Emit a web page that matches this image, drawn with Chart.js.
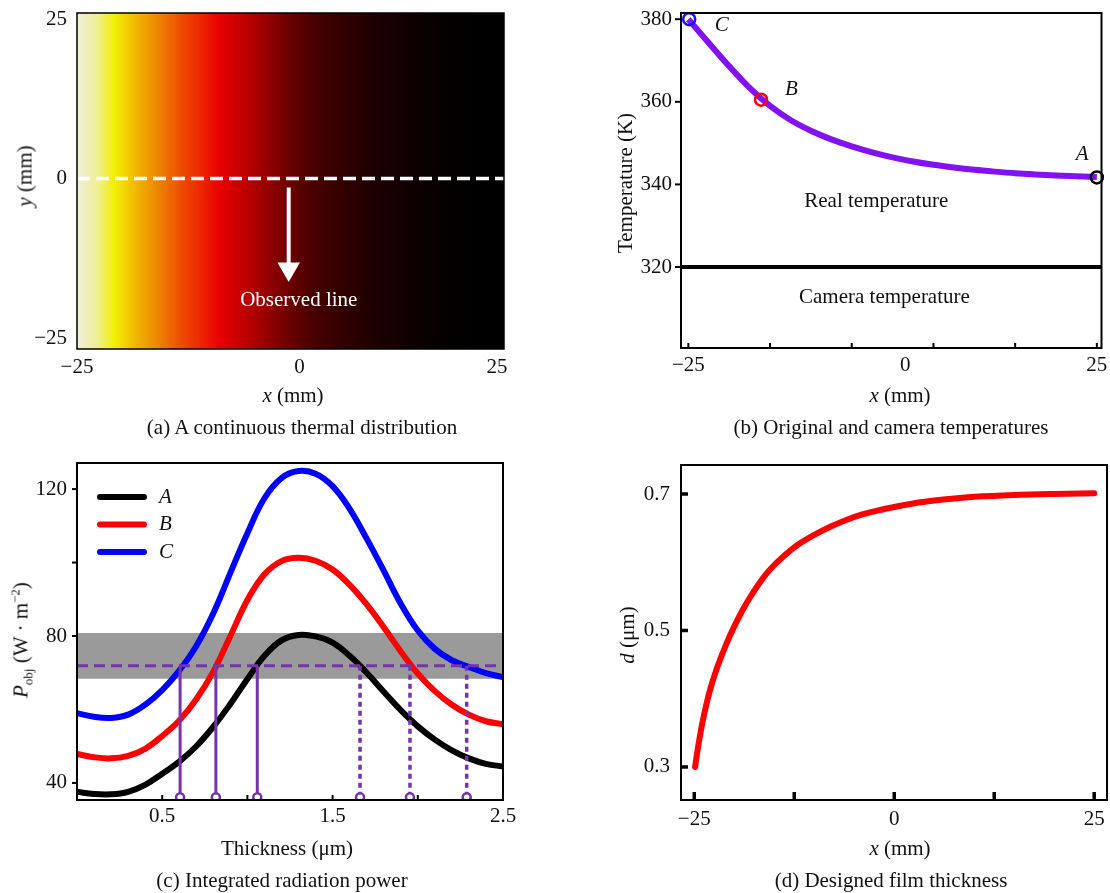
<!DOCTYPE html>
<html>
<head>
<meta charset="utf-8">
<title>Thermal distribution and designed film thickness</title>
<script src="https://cdn.jsdelivr.net/npm/chart.js@4.4.0/dist/chart.umd.min.js"></script>
<style>
  body { margin: 0; background: #fff; }
  #page { position: relative; width: 1110px; height: 893px; overflow: hidden;
          font-family: "Liberation Serif", "Times New Roman", serif; color: #111; }
  #page canvas { position: absolute; }
  .lbl { position: absolute; white-space: nowrap; font-size: 21px; line-height: 1;
         transform: translate(-50%, -50%); }
  .rot { transform: translate(-50%, -50%) rotate(-90deg); }
  sub, sup { font-size: 13px; line-height: 0; }
</style>
</head>
<body>
<div id="page">
  <canvas id="chartA" width="540" height="440" style="left:0;top:0"></canvas>
  <canvas id="chartB" width="550" height="440" style="left:560px;top:0"></canvas>
  <canvas id="chartC" width="540" height="453" style="left:0;top:440px"></canvas>
  <canvas id="chartD" width="550" height="453" style="left:560px;top:440px"></canvas>

  <div class="lbl rot" style="left:25px;top:176px"><i>y</i> (mm)</div>
  <div class="lbl" style="left:293px;top:395px"><i>x</i> (mm)</div>
  <div class="lbl" style="left:302px;top:427px">(a) A continuous thermal distribution</div>

  <div class="lbl rot" style="left:625px;top:183px">Temperature (K)</div>
  <div class="lbl" style="left:900px;top:395px"><i>x</i> (mm)</div>
  <div class="lbl" style="left:891px;top:427px">(b) Original and camera temperatures</div>

  <div class="lbl rot" style="left:21px;top:640px"><i>P</i><sub>obj</sub> (W · m<sup>−2</sup>)</div>
  <div class="lbl" style="left:287px;top:848px">Thickness (μm)</div>
  <div class="lbl" style="left:282px;top:880px">(c) Integrated radiation power</div>

  <div class="lbl rot" style="left:627px;top:635px"><i>d</i> (μm)</div>
  <div class="lbl" style="left:900px;top:848px"><i>x</i> (mm)</div>
  <div class="lbl" style="left:891px;top:880px">(d) Designed film thickness</div>
</div>

<script>
// (a) colour of the thermal map along x (mm)
const HEAT_X = [-25, -22.5, -20.5, -18, -15.5, -12.5, -10, -8, -4, 0, 3, 7, 11, 15, 19, 23, 25.83];
const HEAT_COLOR = ['#efeedc', '#f0ee92', '#f2ef00', '#f0b800', '#ee8800', '#ec4a00', '#ee2200', '#e80000',
                    '#b00000', '#700000', '#4a0000', '#300000', '#1c0000', '#0e0000', '#050000', '#000000', '#000000'];
const OBSERVED_Y = 0;

// (b) temperature along the observed line
const POS_X = [-25, -22.5, -20, -17.5, -15, -12.5, -10, -7.5, -5, -2.5, 0, 2.5, 5, 7.5, 10, 12.5, 15, 17.5, 20, 22.5, 25];
const REAL_T = [380.0, 374.25, 368.6, 363.35, 359.0, 355.6, 353.0, 350.9, 349.2, 347.75, 346.55, 345.55, 344.75,
                344.1, 343.55, 343.1, 342.7, 342.4, 342.15, 341.95, 341.8];
const CAMERA_T = 320;
const POINT_NAMES = ['A', 'B', 'C'];
const POINT_X = [25, -16.1, -24.9];
const POINT_T = [341.7, 360.5, 380.0];
const POINT_COLORS = ['#000000', '#ff0000', '#1010ff'];

// (c) integrated radiation power vs thickness
const THICK = [0, 0.1, 0.2, 0.3, 0.4, 0.5, 0.6, 0.7, 0.8, 0.9, 1.0, 1.1, 1.2, 1.3, 1.4, 1.5, 1.6, 1.7, 1.8, 1.9, 2.0, 2.1, 2.2, 2.3, 2.4, 2.5];
const P_A = [37.6, 37.0, 36.9, 37.6, 39.5, 42.5, 45.8, 50.0, 55.3, 61.5, 68.3, 74.6, 78.8, 80.3, 79.9, 78.2,
             74.6, 70.0, 64.8, 59.8, 55.4, 51.8, 48.9, 46.7, 45.2, 44.5];
const P_B = [47.9, 47.0, 46.7, 47.4, 49.3, 52.8, 57.0, 62.8, 70.3, 80.0, 89.8, 96.8, 100.4, 101.3, 100.5, 98.1,
             93.9, 88.6, 82.4, 75.8, 69.8, 65.0, 61.3, 58.6, 56.8, 56.0];
const P_C = [59.0, 58.0, 57.7, 58.6, 61.3, 65.3, 70.6, 77.3, 86.2, 97.2, 108.0, 117.5, 123.0, 124.9, 124.2, 120.8,
             114.6, 106.5, 97.8, 88.8, 81.5, 76.5, 73.4, 71.6, 69.9, 68.8];
const BAND = [68.4, 80.8];
const LEVEL = 71.9;
const CROSS_SOLID = [0.605, 0.815, 1.058];
const CROSS_DOTTED = [1.661, 1.954, 2.287];

// (d) designed film thickness along x
const FILM_X = [-24.9, -24.5, -24, -23.5, -23, -22, -21, -20, -19, -18, -17, -16, -15, -14, -13, -12, -10, -8, -6, -4,
                -2, 0, 2.5, 5, 7.5, 10, 15, 20, 25];
const FILM_D = [0.300, 0.331, 0.364, 0.391, 0.414, 0.450, 0.480, 0.506, 0.529, 0.549, 0.567, 0.583, 0.596, 0.607,
                0.617, 0.626, 0.640, 0.652, 0.662, 0.670, 0.676, 0.681, 0.6865, 0.6905, 0.6935, 0.6958, 0.6985, 0.700, 0.701];

const PURPLE = '#8212f4';
const GUIDE = '#7535a8';
const SERIF = '"Liberation Serif", "Times New Roman", serif';

Chart.defaults.font.family = SERIF;
Chart.defaults.font.size = 21;
Chart.defaults.color = '#111';
Chart.defaults.animation = false;
Chart.defaults.responsive = false;
Chart.defaults.plugins.legend.display = false;
Chart.defaults.plugins.tooltip.enabled = false;
Chart.defaults.elements.point.radius = 0;

const pts = (xs, ys) => xs.map((x, i) => ({ x, y: ys[i] }));
const minus = v => String(v).replace('-', '\u2212');
// the "0" under panels (a) and (b) sits a little right of its tick in the original
const nudgedZero = v => (v === 0 ? '\u2002\u2002\u20090' : minus(v));

function axis(min, max, labels, size, pad, fmt) {
  return {
    type: 'linear', min, max,
    grid: { display: false, drawTicks: false },
    border: { display: false },
    ticks: { padding: pad, autoSkip: false, maxRotation: 0, callback: fmt || minus },
    afterBuildTicks: s => { s.ticks = labels.map(v => ({ value: v })); },
    afterFit: s => {
      if (s.isHorizontal()) s.height = size; else s.width = size;
      s.paddingLeft = s.paddingRight = s.paddingTop = s.paddingBottom = 0;
    }
  };
}

// box round the plot plus short tick marks (negative length = inward)
const frame = {
  id: 'frame',
  afterDatasetsDraw(chart, args, o) {
    const { ctx, chartArea: a } = chart;
    const xs = chart.scales.x, ys = chart.scales.y;
    ctx.save();
    ctx.strokeStyle = '#000';
    (o.xTicks || []).forEach(v => {
      const p = xs.getPixelForValue(v);
      ctx.lineWidth = o.xTickWidth;
      ctx.beginPath(); ctx.moveTo(p, a.bottom); ctx.lineTo(p, a.bottom + o.xTickLen); ctx.stroke();
    });
    (o.yTicks || []).forEach(v => {
      const p = ys.getPixelForValue(v);
      ctx.lineWidth = o.yTickWidth;
      ctx.beginPath(); ctx.moveTo(a.left, p); ctx.lineTo(a.left - o.yTickLen, p); ctx.stroke();
    });
    ctx.lineWidth = o.width;
    ctx.strokeRect(a.left, a.top, a.right - a.left, a.bottom - a.top);
    ctx.restore();
  }
};

// text placed at data coordinates
const notes = {
  id: 'notes',
  afterDatasetsDraw(chart, args, o) {
    const { ctx } = chart;
    const xs = chart.scales.x, ys = chart.scales.y;
    (o.items || []).forEach(n => {
      ctx.save();
      ctx.font = (n.italic ? 'italic ' : '') + (n.size || 21) + 'px ' + SERIF;
      ctx.fillStyle = n.color || '#111';
      ctx.textAlign = 'center';
      ctx.textBaseline = 'middle';
      ctx.fillText(n.text, xs.getPixelForValue(n.x), ys.getPixelForValue(n.y));
      ctx.restore();
    });
  }
};

// line legend for panel (c)
const lineKey = {
  id: 'lineKey',
  afterDatasetsDraw(chart, args, o) {
    if (!o.items) return;
    const { ctx, chartArea: a } = chart;
    o.items.forEach((idx, i) => {
      const ds = chart.data.datasets[idx];
      const yy = a.top + o.top + i * o.step;
      ctx.save();
      ctx.strokeStyle = ds.borderColor;
      ctx.lineWidth = 6;
      ctx.lineCap = 'round';
      ctx.beginPath(); ctx.moveTo(a.left + o.x0, yy); ctx.lineTo(a.left + o.x1, yy); ctx.stroke();
      ctx.font = 'italic 21px ' + SERIF;
      ctx.fillStyle = '#111';
      ctx.textBaseline = 'middle';
      ctx.fillText(ds.label, a.left + o.tx, yy);
      ctx.restore();
    });
  }
};

function heatFill(c) {
  const chart = c.chart;
  if (!chart.chartArea) return '#000';
  const xs = chart.scales.x;
  const p0 = xs.getPixelForValue(HEAT_X[0]);
  const p1 = xs.getPixelForValue(HEAT_X[HEAT_X.length - 1]);
  const g = chart.ctx.createLinearGradient(p0, 0, p1, 0);
  HEAT_X.forEach((v, i) => g.addColorStop((xs.getPixelForValue(v) - p0) / (p1 - p0), HEAT_COLOR[i]));
  return g;
}

// (a)
const A_YMIN = -26.72, A_YMAX = 25.94;
new Chart(document.getElementById('chartA'), {
  type: 'line',
  data: { datasets: [
    { data: [{ x: 0.2, y: -1.4 }, { x: 0.2, y: -14.2 }], borderColor: '#fff', borderWidth: 4,
      pointRadius: [0, 13], pointStyle: 'triangle', rotation: 180,
      pointBackgroundColor: '#fff', pointBorderWidth: 0 },
    { data: [{ x: HEAT_X[0], y: OBSERVED_Y }, { x: HEAT_X[HEAT_X.length - 1], y: OBSERVED_Y }],
      borderColor: '#fff', borderWidth: 3.5, borderDash: [13, 6] },
    { data: [{ x: HEAT_X[0], y: A_YMAX }, { x: HEAT_X[HEAT_X.length - 1], y: A_YMAX }],
      fill: 'start', borderWidth: 0, backgroundColor: heatFill }
  ]},
  options: {
    layout: { padding: { top: 12, right: 36, bottom: 0, left: 0 } },
    scales: { x: axis(-25, 25.83, [-25, 0, 25], 91, 6, nudgedZero), y: axis(A_YMIN, A_YMAX, [-25, 0, 25], 77, 10) },
    plugins: {
      frame: { width: 1.5 },
      notes: { items: [{ x: 1.4, y: -19.1, text: 'Observed line', color: '#fff' }] }
    }
  },
  plugins: [frame, notes]
});

// (b)
const B_XMIN = -25.9, B_XMAX = 25.57;
new Chart(document.getElementById('chartB'), {
  type: 'line',
  data: { datasets: [
    { data: pts(POINT_X, POINT_T), showLine: false, pointRadius: 6, pointBorderWidth: 2.5,
      pointBorderColor: POINT_COLORS, pointBackgroundColor: 'rgba(255,255,255,0)', clip: false },
    { data: pts(POS_X, REAL_T), borderColor: PURPLE, borderWidth: 6, cubicInterpolationMode: 'monotone' },
    { data: [{ x: B_XMIN, y: CAMERA_T }, { x: B_XMAX, y: CAMERA_T }], borderColor: '#000', borderWidth: 4 }
  ]},
  options: {
    layout: { padding: { top: 13, right: 3, bottom: 0, left: 0 } },
    scales: { x: axis(B_XMIN, B_XMAX, [-25, 0, 25], 92, 5, nudgedZero),
              y: axis(300.4, 381.5, [320, 340, 360, 380], 121, 9) },
    plugins: {
      frame: { width: 2, xTicks: [-25, -15, -5, 5, 15, 25], xTickLen: -5, xTickWidth: 2,
               yTicks: [320, 340, 360, 380], yTickLen: 6, yTickWidth: 2 },
      notes: { items: [
        { x: -2.0, y: 335.8, text: 'Real temperature' },
        { x: -1.0, y: 312.6, text: 'Camera temperature' },
        { x: 23.2, y: 347.3, text: POINT_NAMES[0], italic: true },
        { x: -12.4, y: 363.1, text: POINT_NAMES[1], italic: true },
        { x: -20.9, y: 378.5, text: POINT_NAMES[2], italic: true }
      ] }
    }
  },
  plugins: [frame, notes]
});

// (c)
const C_YMIN = 35.36, C_YMAX = 127.1;
const dropLines = xs => xs.flatMap(x => [{ x, y: LEVEL }, { x, y: C_YMIN }, { x, y: null }]);
new Chart(document.getElementById('chartC'), {
  type: 'line',
  data: { datasets: [
    { data: [...CROSS_SOLID, ...CROSS_DOTTED].map(x => ({ x, y: 36.1 })), showLine: false,
      pointRadius: 4, pointBorderWidth: 2.5, pointBorderColor: GUIDE, pointBackgroundColor: '#fff', clip: 0 },
    { data: dropLines(CROSS_SOLID), borderColor: GUIDE, borderWidth: 3, spanGaps: false },
    { data: dropLines(CROSS_DOTTED), borderColor: GUIDE, borderWidth: 3.5, borderDash: [5, 4], spanGaps: false },
    { data: [{ x: THICK[0], y: LEVEL }, { x: THICK[THICK.length - 1], y: LEVEL }],
      borderColor: GUIDE, borderWidth: 3, borderDash: [11, 6] },
    { label: 'A', data: pts(THICK, P_A), borderColor: '#000000', borderWidth: 6, tension: 0.4 },
    { label: 'B', data: pts(THICK, P_B), borderColor: '#ff0000', borderWidth: 6, tension: 0.4 },
    { label: 'C', data: pts(THICK, P_C), borderColor: '#0000ff', borderWidth: 6, tension: 0.4 },
    { data: [{ x: THICK[0], y: BAND[1] }, { x: THICK[THICK.length - 1], y: BAND[1] }],
      fill: { value: BAND[0] }, backgroundColor: '#9a9a9a', borderWidth: 0 }
  ]},
  options: {
    layout: { padding: { top: 23, right: 37, bottom: 0, left: 0 } },
    scales: { x: axis(0, 2.5, [0.5, 1.5, 2.5], 93, 4), y: axis(C_YMIN, C_YMAX, [40, 80, 120], 77, 10) },
    plugins: {
      frame: { width: 2, xTicks: [0.5, 1, 1.5, 2], xTickLen: -5, xTickWidth: 2,
               yTicks: [40, 80, 100, 120], yTickLen: 5, yTickWidth: 2 },
      lineKey: { items: [4, 5, 6], top: 34, step: 27.5, x0: 23, x1: 67, tx: 82 }
    }
  },
  plugins: [frame, lineKey]
});

// (d)
new Chart(document.getElementById('chartD'), {
  type: 'line',
  data: { datasets: [
    { data: pts(FILM_X, FILM_D), borderColor: '#ff0000', borderWidth: 6, borderCapStyle: 'round',
      cubicInterpolationMode: 'monotone' }
  ]},
  options: {
    layout: { padding: { top: 25, right: 3, bottom: 0, left: 0 } },
    scales: { x: axis(-26.66, 26.6, [-25, 0, 25], 93, 7), y: axis(0.2516, 0.7425, [0.3, 0.5, 0.7], 121, 11) },
    plugins: {
      frame: { width: 2, xTicks: [-25, -12.5, 0, 12.5, 25], xTickLen: -8, xTickWidth: 3.5,
               yTicks: [0.3, 0.5, 0.7], yTickLen: -7, yTickWidth: 3.5 }
    }
  },
  plugins: [frame]
});
</script>
</body>
</html>
